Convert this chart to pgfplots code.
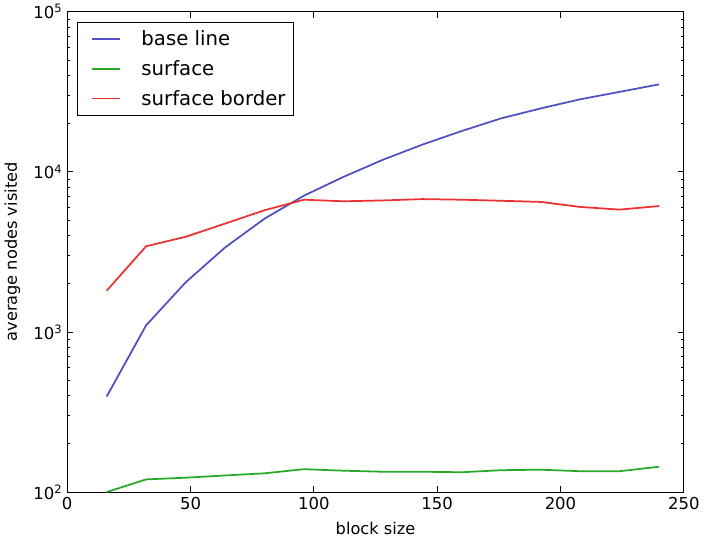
\documentclass[border=0pt]{standalone}
\usepackage{fontspec}
\setmainfont{DejaVu Sans}
\usepackage{pgfplots}
\pgfplotsset{compat=1.18}

\definecolor{cblue}{RGB}{80,80,195}
\definecolor{cgreen}{RGB}{40,170,40}
\definecolor{cred}{RGB}{235,50,50}

\begin{document}
\begin{tikzpicture}
\begin{axis}[
  scale only axis,
  width=457pt, height=356pt,
  xmin=0, xmax=250,
  ymode=log, ymin=100, ymax=100000,
  xtick={0,50,100,150,200,250},
  ytick={100,1000,10000,100000},
  yticklabels={10\textsuperscript{2},10\textsuperscript{3},10\textsuperscript{4},10\textsuperscript{5}},
  minor xtick={},
  xlabel={block size},
  ylabel={average nodes visited},
  font=\fontsize{12}{14}\selectfont,
  tick label style={font=\fontsize{12.2}{14}\selectfont},
  /pgf/number format/assume math mode=true,
  tick align=inside,
  major tick length=4.4pt,
  minor tick length=2.4pt,
  every tick/.style={black, line width=0.6pt},
  axis line style={line width=0.8pt},
  xlabel style={yshift=-3pt},
  ylabel style={yshift=3pt},
  legend style={at={(0.016,0.979)}, anchor=north west, draw=black, line width=0.8pt,
    font=\fontsize{14.6}{17}\selectfont, inner xsep=4pt, inner ysep=4pt,
    row sep=5.5pt,
    /tikz/every odd column/.append style={column sep=13pt}},
  legend cell align=left,
  legend image code/.code={\path (0pt,0pt); \draw[#1, line width=1.3pt] (6pt,0pt) -- (27pt,0pt);},
  every axis plot/.append style={line width=1.3pt},
]
\addplot[cblue] coordinates {
  (16,395) (32,1100) (48,2040) (64,3370) (80,5100) (96,7100) (112,9300)
  (128,11900) (144,14800) (160,18000) (176,21600) (192,24900) (208,28400)
  (224,31600) (240,35200)
};
\addlegendentry{base line}
\addplot[cgreen] coordinates {
  (16,100) (32,120) (48,123) (64,127) (80,131) (96,139) (112,136)
  (128,134) (144,134) (160,133) (176,137) (192,138) (208,135)
  (224,135) (240,144)
};
\addlegendentry{surface}
\addplot[cred] coordinates {
  (16,1810) (32,3430) (48,3930) (64,4750) (80,5760) (96,6700) (112,6550)
  (128,6630) (144,6760) (160,6700) (176,6600) (192,6490) (208,6040)
  (224,5810) (240,6120)
};
\addlegendentry{surface border}
\end{axis}
\end{tikzpicture}
\end{document}
